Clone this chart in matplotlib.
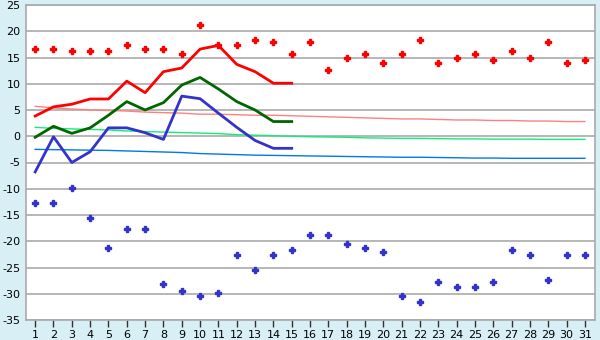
import matplotlib
matplotlib.use("Agg")
import matplotlib.pyplot as plt

days = list(range(1, 32))

# daily extremes (diamonds)
max_pts = [16.7, 16.7, 16.2, 16.2, 16.2, 17.3, 16.7, 16.7, 15.7, 21.2,
           17.4, 17.3, 18.3, 17.9, 15.6, 17.9, 12.7, 15.0, 15.6, 13.9,
           15.6, 18.3, 13.9, 15.0, 15.6, 14.5, 16.2, 15.0, 17.9, 13.9, 14.5]
min_pts = [-12.8, -12.8, -9.9, -15.6, -21.2, -17.7, -17.7, -28.2, -29.4, -30.5,
           -29.9, -22.7, -25.5, -22.7, -21.7, -18.9, -18.9, -20.6, -21.2, -22.1,
           -30.5, -31.6, -27.8, -28.8, -28.8, -27.8, -21.7, -22.7, -27.3, -22.7, -22.7]

# current month, days 1-15
cur_days = list(range(1, 16))
cur_max = [3.85, 5.6, 6.1, 7.1, 7.1, 10.5, 8.3, 12.3, 13.0, 16.6, 17.3, 13.7, 12.3, 10.1, 10.1]
cur_mean = [-0.2, 1.9, 0.55, 1.6, 4.0, 6.6, 5.0, 6.4, 9.75, 11.2, 9.0, 6.6, 5.0, 2.8, 2.8]
cur_min = [-6.8, -0.1, -5.0, -2.95, 1.6, 1.6, 0.67, -0.6, 7.65, 7.15, 4.4, 1.7, -0.8, -2.3, -2.3]

# normals
norm_max = [5.7, 5.4, 5.2, 5.0, 4.9, 4.8, 4.6, 4.5, 4.4, 4.2, 4.2, 4.1, 4.0, 4.0, 3.9, 3.8,
            3.7, 3.6, 3.5, 3.4, 3.3, 3.3, 3.2, 3.1, 3.1, 3.0, 3.0, 2.9, 2.9, 2.8, 2.8]
norm_mean = [1.7, 1.5, 1.4, 1.3, 1.2, 1.0, 0.9, 0.8, 0.7, 0.6, 0.5, 0.3, 0.2, 0.1, 0.0, -0.1,
             -0.15, -0.2, -0.3, -0.35, -0.4, -0.4, -0.45, -0.5, -0.5, -0.55, -0.55, -0.55,
             -0.6, -0.6, -0.6]
norm_min = [-2.5, -2.55, -2.6, -2.65, -2.7, -2.8, -2.9, -3.0, -3.1, -3.3, -3.4, -3.5, -3.6,
            -3.65, -3.7, -3.75, -3.8, -3.85, -3.9, -3.95, -4.0, -4.0, -4.05, -4.1, -4.15,
            -4.15, -4.2, -4.2, -4.2, -4.2, -4.2]

yticks = list(range(-35, 30, 5))

fig = plt.figure(figsize=(6, 3.4), dpi=100, facecolor="#d9eff6")
ax = fig.add_axes([26 / 600, 20 / 340, 569 / 600, 315 / 340])
ax.set_facecolor("white")

for y in yticks:
    ax.axhline(y, color="#aaaaaa", lw=1.2, zorder=1)

ax.plot(days, norm_max, color="#ff8080", lw=1.0, zorder=2)
ax.plot(days, norm_mean, color="#11ee77", lw=1.0, zorder=2)
ax.plot(days, norm_min, color="#0077ee", lw=1.0, zorder=2)

ax.plot(cur_days, cur_max, color="#ff0000", lw=2.0, zorder=3)
ax.plot(cur_days, cur_mean, color="#006600", lw=2.0, zorder=3)
ax.plot(cur_days, cur_min, color="#3333cc", lw=2.0, zorder=3)

ax.plot(days, max_pts, ls="none", marker="P", ms=4.5, color="#ff0000", zorder=4)
ax.plot(days, min_pts, ls="none", marker="P", ms=4.5, color="#3333cc", zorder=4)

ax.set_xlim(0.5, 31.55)
ax.set_ylim(-35, 25)
ax.set_xticks(days)
ax.set_yticks(yticks)
ax.set_yticklabels([str(v) for v in yticks])
ax.tick_params(axis="x", length=5, width=1, color="#333333", labelsize=8, pad=2)
ax.tick_params(axis="y", length=0, labelsize=8, pad=4)
for s in ax.spines.values():
    s.set_color("#aaaaaa")
    s.set_linewidth(1.2)

fig.savefig("out.png", dpi=100, facecolor=fig.get_facecolor())
